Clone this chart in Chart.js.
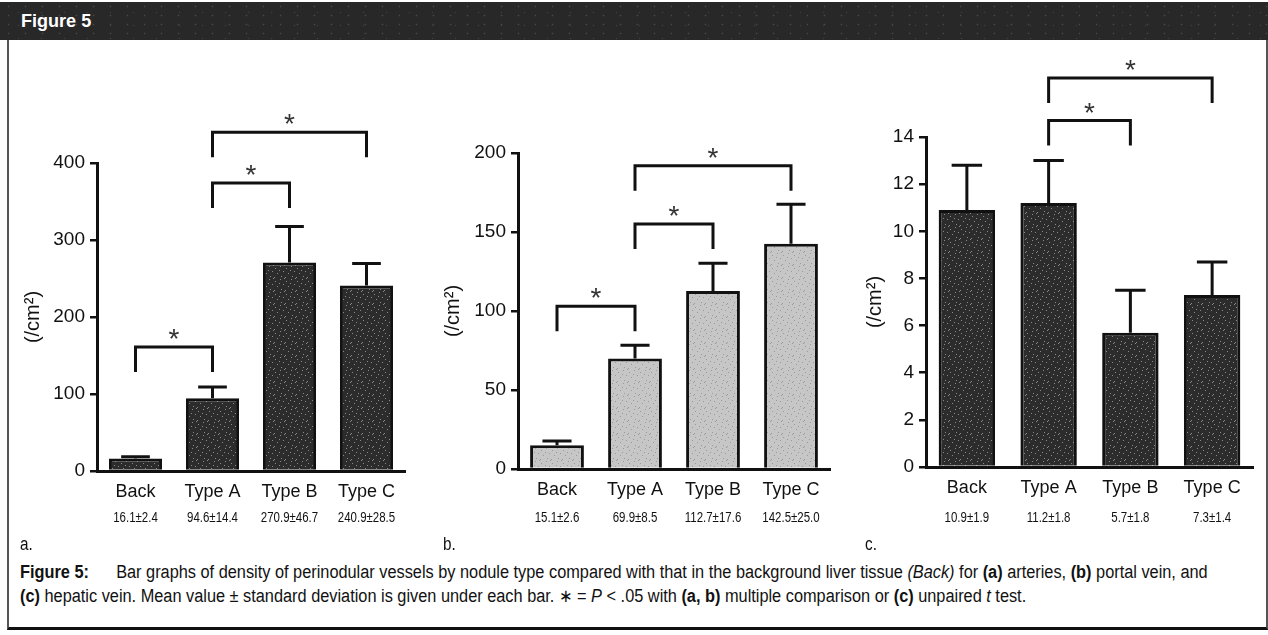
<!DOCTYPE html>
<html>
<head>
<meta charset="utf-8">
<script src="https://cdn.jsdelivr.net/npm/chart.js@4.4.1/dist/chart.umd.min.js"></script>
<style>
body{margin:0;width:1268px;height:635px;background:#fff;position:relative;overflow:hidden;font-family:'Liberation Sans',Arial,sans-serif}
#head{position:absolute;left:0;top:2px;width:1268px;height:38px;background-color:#282828;
  background-image:radial-gradient(circle,#4a4a4a 0.6px,transparent 1.1px),radial-gradient(circle,#3c3c3c 0.6px,transparent 1.1px);
  background-size:17px 9px,23px 13px;background-position:0 0,7px 4px}
#head span{position:absolute;left:21px;top:8px;color:#fff;font:bold 19px 'Liberation Sans',Arial,sans-serif;display:inline-block;transform:scaleX(0.95);transform-origin:left}
#frame{position:absolute;left:7px;top:40px;width:1257px;height:587px;border-left:2px solid #555;border-right:2px solid #555;border-bottom:3px solid #111}
canvas{position:absolute}
.lbl{position:absolute;font:18px 'Liberation Sans',Arial,sans-serif;color:#111;transform:scaleX(0.85);transform-origin:left}
.cap{position:absolute;left:20px;font:18px 'Liberation Sans',Arial,sans-serif;color:#111;white-space:nowrap;transform-origin:left}
</style>
</head>
<body>
<div id="head"><span>Figure 5</span></div>
<div id="frame"></div>
<canvas id="chartA" width="410" height="495" style="left:10px;top:45px"></canvas>
<canvas id="chartB" width="420" height="495" style="left:430px;top:45px"></canvas>
<canvas id="chartC" width="418" height="495" style="left:850px;top:45px"></canvas>
<div class="lbl" style="left:20px;top:534px">a.</div>
<div class="lbl" style="left:443px;top:534px">b.</div>
<div class="lbl" style="left:865px;top:534px">c.</div>
<div class="cap" id="cap1" style="top:562px"><b>Figure 5:</b><span style="margin-left:30px">Bar graphs of density of perinodular vessels by nodule type compared with that in the background liver tissue <i>(Back)</i> for <b>(a)</b> arteries, <b>(b)</b> portal vein, and</span></div>
<div class="cap" id="cap2" style="top:585px"><b>(c)</b> hepatic vein. Mean value ± standard deviation is given under each bar. ∗ = <i>P</i> &lt; .05 with <b>(a, b)</b> multiple comparison or <b>(c)</b> unpaired <i>t</i> test.</div>
<script>
var categories = ['Back', 'Type A', 'Type B', 'Type C'];

// (a) arteries
var arteryMean = [16.1, 94.6, 270.9, 240.9];
var arterySD = [2.4, 14.4, 46.7, 28.5];
var arteryTicks = [0, 100, 200, 300, 400];
var arteryBrackets = [[0, 1, 161], [1, 2, 374], [1, 3, 440]];

// (b) portal vein
var portalMean = [15.1, 69.9, 112.7, 142.5];
var portalSD = [2.6, 8.5, 17.6, 25.0];
var portalTicks = [0, 50, 100, 150, 200];
var portalBrackets = [[0, 1, 103], [1, 2, 155], [1, 3, 192]];

// (c) hepatic vein
var hepaticMean = [10.9, 11.2, 5.7, 7.3];
var hepaticSD = [1.9, 1.8, 1.8, 1.4];
var hepaticTicks = [0, 2, 4, 6, 8, 10, 12, 14];
var hepaticBrackets = [[1, 2, 14.7], [1, 3, 16.5]];

var ink = '#111';

// squeeze the caption lines to the narrow width of the printed figure
var cap1 = document.getElementById('cap1'), cap2 = document.getElementById('cap2');
var squeeze = 1188 / cap1.scrollWidth;
cap1.style.transform = 'scaleX(' + squeeze + ')';
cap2.style.transform = 'scaleX(' + squeeze + ')';

// grainy fill like the halftone print
function grain(base, dot) {
  var c = document.createElement('canvas');
  c.width = 11; c.height = 13;
  var g = c.getContext('2d');
  g.fillStyle = base;
  g.fillRect(0, 0, 11, 13);
  g.fillStyle = dot;
  [[1, 2], [6, 0], [9, 5], [3, 7], [7, 10], [0, 11], [5, 4], [10, 12]].forEach(function(p) { g.fillRect(p[0], p[1], 1, 1); });
  return c.getContext('2d').createPattern(c, 'repeat');
}

// error bars, significance brackets and mean±sd labels
var annotate = {
  id: 'annotate',
  afterDatasetsDraw: function(chart, args, opts) {
    var ctx = chart.ctx, xs = chart.scales.x, ys = chart.scales.y;
    var meta = chart.getDatasetMeta(0);
    ctx.save();
    ctx.strokeStyle = ink;
    ctx.lineWidth = 3;
    opts.sd.forEach(function(s, i) {
      var bar = meta.data[i];
      var top = ys.getPixelForValue(opts.mean[i] + s);
      var cap = bar.width * 0.27;
      ctx.beginPath();
      ctx.moveTo(bar.x, bar.y);
      ctx.lineTo(bar.x, top);
      ctx.moveTo(bar.x - cap, top);
      ctx.lineTo(bar.x + cap, top);
      ctx.stroke();
    });
    ctx.font = '28px "Liberation Sans"';
    ctx.fillStyle = '#333';
    ctx.textAlign = 'center';
    ctx.textBaseline = 'alphabetic';
    var m = ctx.measureText('*');
    opts.brackets.forEach(function(b) {
      var x1 = xs.getPixelForValue(b[0]), x2 = xs.getPixelForValue(b[1]);
      var yy = ys.getPixelForValue(b[2]);
      ctx.beginPath();
      ctx.moveTo(x1, yy + opts.drop);
      ctx.lineTo(x1, yy);
      ctx.lineTo(x2, yy);
      ctx.lineTo(x2, yy + opts.drop);
      ctx.stroke();
      var cy = yy - 13;
      ctx.fillText('*', (x1 + x2) / 2, cy + (m.actualBoundingBoxAscent - m.actualBoundingBoxDescent) / 2);
    });
    ctx.font = '14px "Liberation Sans", Arial, sans-serif';
    ctx.fillStyle = ink;
    ctx.textBaseline = 'middle';
    opts.mean.forEach(function(v, i) {
      ctx.save();
      ctx.translate(xs.getPixelForValue(i), opts.labelY);
      ctx.scale(0.82, 1);
      ctx.fillText(v.toFixed(1) + '±' + opts.sd[i].toFixed(1), 0, 0);
      ctx.restore();
    });
    ctx.restore();
  }
};

function makeChart(id, mean, sd, ticks, brackets, fill, L) {
  return new Chart(document.getElementById(id), {
    type: 'bar',
    data: {
      labels: categories,
      datasets: [{
        data: mean,
        backgroundColor: fill,
        borderColor: ink,
        borderWidth: 3,
        barPercentage: 0.69,
        categoryPercentage: 1
      }]
    },
    options: {
      responsive: false,
      animation: false,
      devicePixelRatio: 1,
      layout: {padding: {left: 0, right: L.pr, top: L.pt, bottom: 0}},
      plugins: {
        legend: {display: false},
        tooltip: {enabled: false},
        annotate: {mean: mean, sd: sd, brackets: brackets, drop: 25, labelY: 473}
      },
      scales: {
        x: {
          afterFit: function(s) { s.height = L.xh; },
          grid: {display: false, drawTicks: false},
          border: {display: true, width: 3, color: ink},
          ticks: {color: ink, font: {family: 'Liberation Sans', size: 18}, padding: 10, maxRotation: 0, autoSkip: false}
        },
        y: {
          min: 0,
          max: ticks[ticks.length - 1],
          afterBuildTicks: function(s) { s.ticks = ticks.map(function(v) { return {value: v}; }); },
          afterFit: function(s) { s.width = L.yw; },
          grid: {display: true, drawOnChartArea: false, drawTicks: true, tickLength: 7, lineWidth: 2.5, color: ink},
          border: {display: true, width: 3, color: ink},
          ticks: {color: ink, font: {family: 'Liberation Sans', size: 19}, padding: 5},
          title: {display: true, text: '(/cm²)', color: ink, font: {family: 'Liberation Sans', size: 20}, padding: {top: L.tp, bottom: 0}}
        }
      }
    },
    plugins: [annotate]
  });
}

makeChart('chartA', arteryMean, arterySD, arteryTicks, arteryBrackets, grain('#2c2c2c', '#8a8a8a'), {yw: 87, pr: 15, pt: 118, xh: 69, tp: 11});
makeChart('chartB', portalMean, portalSD, portalTicks, portalBrackets, grain('#c6c6c6', '#9a9a9a'), {yw: 88, pr: 20, pt: 108, xh: 71, tp: 11});
makeChart('chartC', hepaticMean, hepaticSD, hepaticTicks, hepaticBrackets, grain('#2c2c2c', '#8a8a8a'), {yw: 76, pr: 15, pt: 92, xh: 73, tp: 13});
</script>
</body>
</html>
